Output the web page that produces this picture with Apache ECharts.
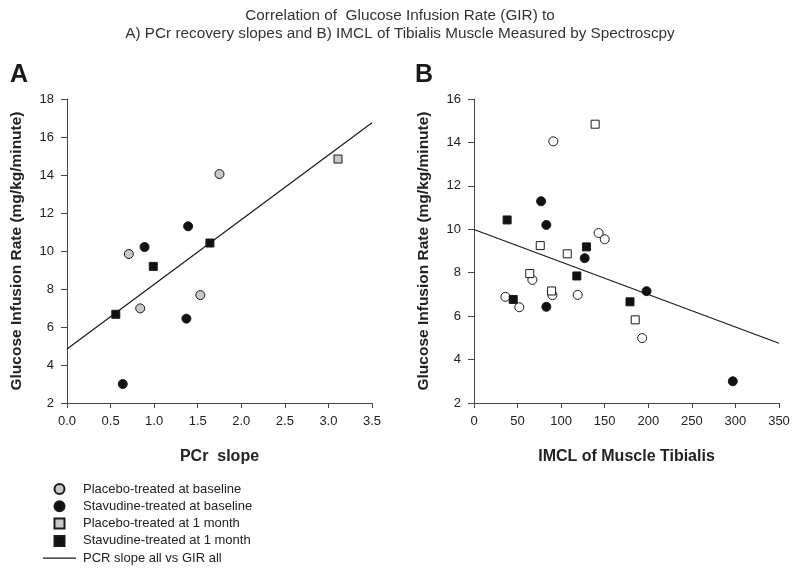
<!DOCTYPE html>
<html>
<head>
<meta charset="utf-8">
<script src="https://cdn.jsdelivr.net/npm/echarts@6/dist/echarts.min.js"></script>
<style>html,body{margin:0;padding:0;background:#fff}#c{width:800px;height:575px}</style>
</head>
<body>
<div id="c"></div>
<script>
// ---- data ----
const titleLines = ['Correlation of  Glucose Infusion Rate (GIR) to', 'A) PCr recovery slopes and B) IMCL of Tibialis Muscle Measured by Spectroscpy'];
const seriesNames = ['Placebo-treated at baseline', 'Stavudine-treated at baseline', 'Placebo-treated at 1 month', 'Stavudine-treated at 1 month', 'PCR slope all vs GIR all'];

// Panel A: PCr slope vs GIR
const pcrPlaceboBase = [[1.75, 14.05], [0.71, 9.84], [0.84, 6.98], [1.53, 7.68]];
const pcrStavBase = [[0.89, 10.21], [1.39, 11.3], [1.37, 6.44], [0.64, 3.0]];
const pcrPlacebo1m = [[3.11, 14.84]];
const pcrStav1m = [[0.56, 6.67], [0.99, 9.19], [1.64, 10.42]];
const pcrFit = [[0, 4.84], [3.5, 16.75]];

// Panel B: IMCL vs GIR
const imclPlaceboBase = [[91, 14.05], [143, 9.83], [150, 9.54], [67, 7.67], [90, 6.97], [36, 6.89], [119, 6.98], [52, 6.41], [193, 4.99]];
const imclStavBase = [[77, 11.29], [83, 10.2], [127, 8.67], [198, 7.15], [83, 6.43], [297, 3.0]];
const imclPlacebo1m = [[139, 14.84], [76, 9.25], [107, 8.87], [64, 7.96], [89, 7.16], [185, 5.83]];
const imclStav1m = [[38, 10.43], [129, 9.19], [118, 7.85], [45, 6.77], [179, 6.66]];
const imclFit = [[0, 9.99], [350, 4.75]];

const yNameText = 'Glucose Infusion Rate (mg/kg/minute)';
const xNameA = 'PCr  slope';
const xNameB = 'IMCL of Muscle Tibialis';

// ---- chart ----
const FONT = 'Liberation Sans, Arial, sans-serif';
const axisCol = '#444';
const txtCol = '#222';
const SQUARE = 'path://M0,0 L10,0 L10,10 L0,10 Z';

function yAxis(gridIndex, max) {
  return {
    type: 'value', gridIndex, min: 2, max, interval: 2,
    name: yNameText, nameLocation: 'middle', nameGap: 42,
    nameTextStyle: { fontFamily: FONT, fontWeight: 'bold', fontSize: 15.5, color: txtCol },
    axisLine: { show: true, lineStyle: { color: axisCol, width: 1 } },
    axisTick: { show: true, length: 6, lineStyle: { color: axisCol } },
    axisLabel: { fontFamily: FONT, fontSize: 13, color: txtCol, margin: 13 },
    splitLine: { show: false }
  };
}
function xAxis(gridIndex, max, interval, name, fmt) {
  return {
    type: 'value', gridIndex, min: 0, max, interval,
    name, nameLocation: 'middle', nameGap: 46,
    nameTextStyle: { fontFamily: FONT, fontWeight: 'bold', fontSize: 16, color: txtCol },
    axisLine: { show: true, onZero: false, lineStyle: { color: axisCol, width: 1 } },
    axisTick: { show: true, length: 5, lineStyle: { color: axisCol } },
    axisLabel: { fontFamily: FONT, fontSize: 13, color: txtCol, margin: 12, formatter: fmt },
    splitLine: { show: false }
  };
}
function scatter(name, xi, data, symbol, fill, size) {
  return {
    type: 'scatter', name, xAxisIndex: xi, yAxisIndex: xi, data, symbol,
    symbolSize: size, z: 3,
    itemStyle: { color: fill, borderColor: '#1a1a1a', borderWidth: 1, opacity: 1 }
  };
}
function fitLine(name, xi, data) {
  return {
    type: 'line', name, xAxisIndex: xi, yAxisIndex: xi, data, symbol: 'none', z: 2,
    lineStyle: { color: '#1a1a1a', width: 1.2 }, itemStyle: { color: '#1a1a1a' }, silent: true
  };
}

const chart = echarts.init(document.getElementById('c'));
chart.setOption({
  backgroundColor: '#fff',
  animation: false,
  title: [
    { text: titleLines.join('\n'), left: 'center', top: 2,
      textStyle: { fontFamily: FONT, fontWeight: 'normal', fontSize: 15.3, lineHeight: 18, color: '#333' } },
    { text: 'A', left: 5, top: 58, textStyle: { fontFamily: FONT, fontWeight: 'bold', fontSize: 25, color: '#1a1a1a' } },
    { text: 'B', left: 410, top: 58, textStyle: { fontFamily: FONT, fontWeight: 'bold', fontSize: 25, color: '#1a1a1a' } }
  ],
  grid: [
    { left: 67, right: 428, top: 99, bottom: 172 },
    { left: 474, right: 21, top: 99, bottom: 172 }
  ],
  xAxis: [
    xAxis(0, 3.5, 0.5, xNameA, v => v.toFixed(1)),
    xAxis(1, 350, 50, xNameB, v => String(v))
  ],
  yAxis: [yAxis(0, 18), yAxis(1, 16)],
  legend: {
    orient: 'vertical', left: 38, top: 477,
    itemWidth: 33, itemHeight: 10, itemGap: 3.3,
    textStyle: { fontFamily: FONT, fontSize: 13, color: txtCol, lineHeight: 14, padding: [0, 0, 0, 2] },
    data: [
      { name: seriesNames[0], icon: 'circle' },
      { name: seriesNames[1], icon: 'circle' },
      { name: seriesNames[2], icon: SQUARE },
      { name: seriesNames[3], icon: SQUARE },
      { name: seriesNames[4], icon: 'path://M0,0 L33,0 L33,1.2 L0,1.2 Z' }
    ]
  },
  series: [
    fitLine(seriesNames[4], 0, pcrFit),
    scatter(seriesNames[0], 0, pcrPlaceboBase, 'circle', '#c8c8c8', 9),
    scatter(seriesNames[1], 0, pcrStavBase, 'circle', '#111', 9),
    scatter(seriesNames[2], 0, pcrPlacebo1m, 'rect', '#c8c8c8', 8),
    scatter(seriesNames[3], 0, pcrStav1m, 'rect', '#111', 8),
    fitLine('IMCL all vs GIR all', 1, imclFit),
    scatter(seriesNames[0], 1, imclPlaceboBase, 'circle', '#fff', 9),
    scatter(seriesNames[1], 1, imclStavBase, 'circle', '#111', 9),
    scatter(seriesNames[2], 1, imclPlacebo1m, 'rect', '#fff', 8),
    scatter(seriesNames[3], 1, imclStav1m, 'rect', '#111', 8)
  ]
});
</script>
</body>
</html>
